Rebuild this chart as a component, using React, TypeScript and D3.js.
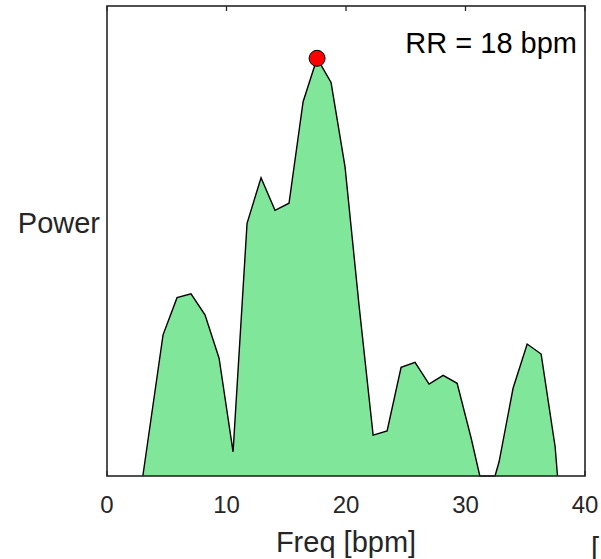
import React from "react";
import * as d3 from "d3";

const freqs = [3.0, 4.69, 5.86, 7.03, 8.2, 9.38, 10.55, 11.72, 12.89, 14.06, 15.23, 16.41, 17.58, 18.75, 19.92, 21.09, 22.27, 23.44, 24.61, 25.78, 26.95, 28.13, 29.3, 30.47, 31.2, 32.47, 32.81, 33.98, 35.16, 36.33, 37.5, 37.7];
const power = [0, 0.338, 0.427, 0.436, 0.386, 0.282, 0.058, 0.605, 0.714, 0.636, 0.653, 0.896, 1.0, 0.942, 0.74, 0.409, 0.098, 0.108, 0.26, 0.272, 0.22, 0.241, 0.222, 0.091, 0, 0, 0.034, 0.21, 0.316, 0.292, 0.07, 0];
const xTicks = [0, 10, 20, 30, 40];
const peakFreq = 17.58;
const peakPower = 1.0;
const annotation = "RR = 18 bpm";
const xLabel = "Freq [bpm]";
const yLabel = "Power";

const W = 601;
const H = 559;
const L = 107, R = 585, T = 6, B = 476;

export default function App() {
  const x = d3.scaleLinear().domain([0, 40]).range([L, R]);
  const y = d3.scaleLinear().domain([0, 1.1252]).range([B, T]);
  const pts = freqs.map((f, i) => [f, power[i]] as [number, number]);
  const area = d3.area<[number, number]>().x(d => x(d[0])).y0(y(0)).y1(d => y(d[1]))(pts) || "";
  const line = d3.line<[number, number]>().x(d => x(d[0])).y(d => y(d[1]))(pts) || "";
  const axisColor = "#262626";
  const font = "'Liberation Sans', Arial, Helvetica, sans-serif";
  return (
    <svg width={W} height={H} style={{ position: "absolute", left: 0, top: 0, background: "#fff" }} fontFamily={font}>
      <rect x={0} y={0} width={W} height={H} fill="#fff" />
      <rect x={L} y={T} width={R - L} height={B - T} fill="#fff" />
      {xTicks.map(t => (
        <g key={t}>
          <line x1={x(t)} x2={x(t)} y1={T} y2={T + 5} stroke={axisColor} strokeWidth={1.3} />
          <line x1={x(t)} x2={x(t)} y1={B} y2={B - 5} stroke={axisColor} strokeWidth={1.3} />
        </g>
      ))}
      <path d={area} fill="#80e69a" stroke="none" />
      <path d={line} fill="none" stroke="#000" strokeWidth={1.4} strokeLinejoin="miter" />
      <circle cx={x(peakFreq)} cy={y(peakPower)} r={8} fill="#ff0000" stroke="#000" strokeWidth={1} />
      <rect x={L} y={T} width={R - L} height={B - T} fill="none" stroke={axisColor} strokeWidth={1.6} />
      {xTicks.map(t => (
        <text key={t} x={x(t)} y={513} textAnchor="middle" fontSize={24} fill={axisColor}>{t}</text>
      ))}
      <text x={(L + R) / 2} y={552} textAnchor="middle" fontSize={29} fill={axisColor}>{xLabel}</text>
      <text x={100} y={233} textAnchor="end" fontSize={29} fill={axisColor}>{yLabel}</text>
      <text x={577} y={53} textAnchor="end" fontSize={29} fill="#000">{annotation}</text>
      <text x={591} y={558} fontSize={29} fill={axisColor}>[</text>
    </svg>
  );
}
